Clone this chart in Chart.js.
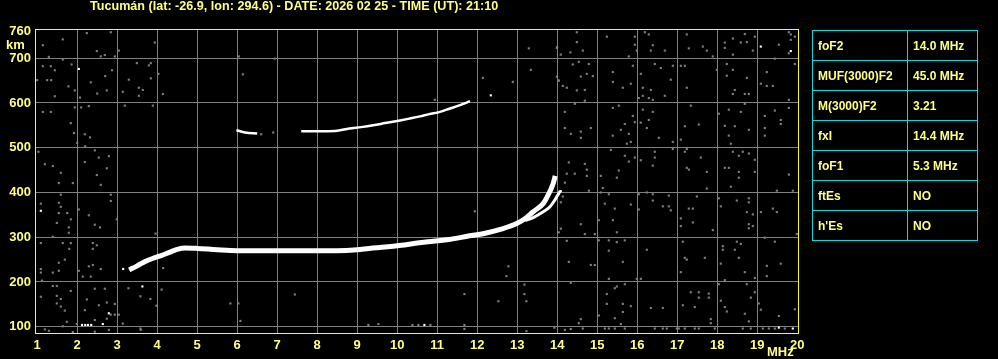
<!DOCTYPE html>
<html>
<head>
<meta charset="utf-8">
<script src="https://cdn.jsdelivr.net/npm/chart.js@4/dist/chart.umd.min.js"></script>
<style>
  body { margin: 0; background: #000; }
  #wrap { position: relative; width: 998px; height: 359px; }
  #params {
    position: absolute; left: 812px; top: 30px;
    border-collapse: collapse;
    font: bold 12px "Liberation Sans", Arial, sans-serif;
    color: #ffff80;
  }
  #params td {
    border: 1px solid #00e0e0;
    height: 29px; padding: 0 0 0 5px;
  }
  #params td.n { width: 89px; }
  #params td.v { width: 64px; }
</style>
</head>
<body>
<div id="wrap">
  <canvas id="my-chart" width="998" height="359"></canvas>
  <table id="params"></table>
</div>
<script>
const title = "Tucumán (lat: -26.9, lon: 294.6) - DATE: 2026 02 25 - TIME (UT): 21:10";

const xTicks = [1, 2, 3, 4, 5, 6, 7, 8, 9, 10, 11, 12, 13, 14, 15, 16, 17, 18, 19, 20];
const yTicks = [100, 200, 300, 400, 500, 600, 700, 760];

// F2 trace (o-mode), MHz / km
const oFreq = [3.3, 3.5, 3.7, 3.9, 4.1, 4.3, 4.5, 4.7, 5.0, 5.5, 6.0, 6.5, 7.0, 7.5, 8.0, 8.5, 9.0, 9.3, 9.7, 10.1, 10.5, 10.9, 11.3, 11.75, 12.2, 12.6, 13.0, 13.2, 13.4, 13.65, 13.75, 13.9, 13.95];
const oHeight = [227, 236, 246, 253, 259, 266, 273, 276, 275, 272, 270, 270, 270, 270, 270, 270, 272, 275, 278, 282, 287, 291, 295, 302, 309, 318, 331, 342, 357, 375, 390, 420, 437];

// x-mode branch
const xFreq = [13.2, 13.4, 13.65, 13.82, 13.94, 14.08];
const xHeight = [337, 344, 357, 368, 383, 404];

// second hop trace (null = gap)
const hopFreq = [5.98, 6.2, 6.5, 6.9, 7.6, 7.9, 8.2, 8.5, 8.8, 9.1, 9.4, 9.7, 10.07, 10.3, 10.57, 10.8, 11.07, 11.3, 11.57, 11.82];
const hopHeight = [539, 534, 532, null, 537, 537, 537, 538, 543, 546, 550, 555, 561, 565, 570, 575, 580, 587, 595, 604];

// scattered echoes [MHz, km]
const noiseGray = [
  [1.14,729],[1.64,742],[2.24,756],[2.84,758],[2.49,716],[2.59,704],[2.69,707],[1.29,703],[1.64,697],[1.14,682],
  [1.34,682],[1.44,673],[1.86,686],[1.0,651],[1.25,651],[1.35,651],[1.78,637],[1.94,628],[2.34,646],[2.5,621],
  [2.74,628],[2.7,660],[2.87,673],[1.44,615],[2.07,612],[1.14,580],[1.34,580],[1.94,590],[2.1,590],[2.29,593],
  [1.84,555],[1.92,533],[2.19,530],[2.32,523],[2.0,511],[2.2,503],[1.03,491],[2.44,494],[2.54,478],[2.79,481],
  [1.19,463],[1.39,459],[2.19,468],[2.74,454],[1.59,444],[2.49,439],[1.54,421],[1.89,421],[2.59,417],[1.59,395],
  [2.84,395],[2.84,381],[1.09,375],[1.54,377],[1.59,368],[2.04,362],[1.54,354],[1.75,354],[2.29,349],[2.99,340],
  [1.49,332],[1.84,340],[1.79,322],[1.79,310],[2.44,328],[2.57,322],[1.39,301],[1.09,287],[1.64,287],[1.84,287],
  [2.39,287],[2.49,282],[1.8,274],[2.39,274],[1.69,250],[1.54,243],[2.29,235],[2.39,238],[2.59,229],[1.09,229],
  [1.09,221],[1.39,221],[1.54,225],[2.04,225],[2.14,212],[2.34,212],[1.12,203],[1.39,191],[1.49,191],[1.84,180],
  [1.09,167],[1.49,169],[1.59,162],[1.49,152],[1.59,145],[1.69,136],[2.44,185],[2.69,185],[2.24,161],[2.54,148],
  [2.74,154],[2.94,151],[2.19,137],[2.44,115],[2.74,118],[2.84,127],[2.94,127],[3.04,127],[1.64,101],[1.19,94],
  [1.29,91],[1.89,88],[1.99,106],[1.74,111],[2.44,89],[2.79,93],[3.59,93],[3.14,107],
  [3.94,735],[3.04,717],[2.94,704],[3.49,689],[3.79,684],[3.84,689],[4.03,665],[3.84,655],[3.29,652],[3.54,634],
  [3.64,629],[3.14,625],[3.54,616],[4.14,620],[3.19,594],[3.89,594],[6.04,704],[6.14,664],[6.94,699],[10.94,607],
  [12.14,656],[12.89,647],[13.29,722],[13.34,674],[13.99,723],[13.99,659],[14.04,650],[3.96,308],[4.15,231],[4.11,183],
  [5.83,152],[6.03,152],[6.08,113],[7.44,172],[9.28,104],[9.53,106],[10.38,104],[10.53,104],[10.83,104],[11.68,173],
  [11.68,104],[11.68,95],[12.78,235],[12.73,213],[12.53,157],[13.18,194],[13.18,173],[13.23,157],[13.23,90],[13.93,98],
  [11.94,358],[3.28,186],[3.58,168],[3.83,162],[3.98,147],[3.58,96],[6.9,534],[6.6,530],
  [14.49,758],[14.49,736],[14.33,713],[14.09,708],[14.64,717],[14.0,725],[15.24,748],[15.94,748],[15.94,730],[16.19,758],
  [16.29,753],[16.39,729],[16.34,717],[16.69,717],[15.99,717],[15.79,704],[17.24,753],[17.29,722],[17.64,726],[17.74,717],
  [17.89,704],[18.19,735],[18.19,723],[18.39,744],[18.59,735],[18.69,754],[18.74,736],[18.94,748],[18.89,717],[18.39,708],
  [19.54,730],[19.79,758],[19.84,753],[19.84,741],[19.79,711],[19.94,748],[14.39,686],[14.54,692],[14.79,687],[14.59,659],
  [14.74,665],[14.89,660],[14.03,650],[14.14,638],[14.24,634],[14.49,628],[14.69,629],[14.69,605],[15.39,669],[15.39,647],
  [15.64,634],[15.84,643],[15.89,683],[16.09,665],[16.14,634],[16.14,616],[16.04,611],[16.29,611],[16.39,607],[16.34,629],
  [16.69,616],[16.44,687],[16.59,678],[16.84,652],[16.89,683],[17.09,683],[17.19,683],[17.24,634],[17.99,674],[18.24,687],
  [18.39,674],[18.24,661],[18.74,656],[18.44,629],[18.39,620],[18.69,620],[18.79,620],[19.09,643],[19.24,638],[19.39,638],
  [19.24,669],[19.44,699],[19.79,607],[19.94,687],[14.19,580],[14.19,544],[14.34,531],[14.59,536],[14.59,522],[14.84,544],
  [14.44,598],[15.39,589],[15.54,594],[15.89,571],[15.94,557],[15.69,553],[15.59,540],[15.79,531],[15.39,527],[15.74,509],
  [15.84,513],[16.14,585],[16.39,580],[16.29,562],[16.09,556],[16.24,544],[16.54,522],[16.89,513],[17.34,594],[17.19,548],
  [17.54,552],[17.09,518],[18.04,576],[18.29,585],[18.59,580],[18.19,549],[18.44,548],[18.79,540],[18.29,527],[18.34,509],
  [18.69,598],[19.44,583],[19.79,589],[19.19,571],[19.59,562],[19.59,553],[19.19,544],[19.19,527],[14.29,467],[14.69,464],
  [14.74,451],[14.24,442],[14.44,442],[14.74,437],[15.09,437],[15.34,495],[15.69,482],[15.79,469],[15.94,478],[15.54,449],
  [15.49,433],[16.09,472],[16.44,491],[16.44,478],[16.39,460],[16.89,497],[17.19,491],[17.24,497],[17.59,478],[17.24,455],
  [17.29,451],[17.74,446],[18.39,491],[18.54,482],[18.64,491],[18.79,487],[18.94,473],[18.19,455],[18.29,455],[18.54,446],
  [18.94,446],[18.54,433],[19.79,440],
  [14.19,422],[14.04,396],[14.14,391],[14.09,378],[14.79,404],[15.14,410],[15.09,400],[15.29,396],[15.19,375],[15.44,364],
  [15.84,373],[16.04,396],[16.04,362],[16.24,400],[16.39,396],[16.39,382],[16.79,393],[16.64,369],[16.79,369],[16.84,360],
  [17.49,391],[17.74,409],[17.29,364],[17.39,364],[17.09,342],[17.39,333],[17.09,325],[17.89,316],[18.04,387],[18.09,369],
  [18.34,413],[18.49,382],[18.79,387],[18.79,378],[18.74,356],[18.89,351],[18.79,329],[18.89,325],[18.79,320],[19.09,356],
  [19.39,364],[19.49,356],[19.49,404],[19.89,404],[19.99,307],[14.09,319],[14.59,329],[14.69,307],[14.94,307],[15.04,338],
  [15.39,338],[15.49,311],[14.04,311],[14.24,292],[14.29,245],[14.84,238],[14.94,238],[15.04,293],[15.29,293],[15.49,289],
  [15.69,293],[15.29,270],[15.64,245],[15.29,207],[15.99,207],[16.09,207],[16.24,272],[17.14,290],[17.19,254],[17.24,250],
  [17.69,254],[17.09,222],[18.14,280],[18.14,272],[18.49,290],[18.59,285],[18.44,272],[18.54,254],[18.09,241],[18.69,222],
  [18.19,204],[18.94,209],[19.19,299],[19.44,290],[19.24,236],[19.59,241],[19.24,213],[14.34,198],[15.69,195],[15.49,190],
  [15.44,186],[15.24,173],[15.24,151],[15.64,151],[15.84,146],[15.64,133],[15.44,119],[15.59,106],[15.04,125],[16.34,142],
  [16.64,142],[17.34,177],[17.14,148],[17.44,144],[17.54,165],[17.79,174],[17.79,165],[17.54,177],[18.04,195],[18.74,195],
  [18.94,177],[18.09,158],[18.19,144],[18.24,134],[18.69,129],[19.04,152],[19.09,138],[18.84,165],[17.84,117],[17.84,108],
  [18.79,112],[19.54,124],[19.94,139],[14.59,117],[14.54,108],[14.34,95],[14.19,93],
  [14.64,96],[15.19,96],[15.29,96],[15.44,96],[15.69,96],[16.44,96],[16.64,96],[16.74,96],[16.99,96],[17.04,96],
  [17.19,96],[17.44,96],[17.54,96],[17.94,96],[18.64,96],[18.84,96],[19.14,96],[19.29,96],[19.44,96],[19.69,96]
];
const noiseWhite = [
  [2.04,676],[1.09,359],[2.79,130],[2.12,104],[2.2,104],[2.27,104],[2.35,104],[2.64,106],[3.63,190],[3.15,229],
  [10.68,104],[12.34,617],[19.09,726],[19.84,716],[14.09,403],[19.54,98],[19.89,96]
];

const paramNames = ["foF2", "MUF(3000)F2", "M(3000)F2", "fxI", "foF1", "ftEs", "h'Es"];
const paramValues = ["14.0 MHz", "45.0 MHz", "3.21", "14.4 MHz", "5.3 MHz", "NO", "NO"];

const table = document.getElementById("params");
paramNames.forEach((name, i) => {
  const row = table.insertRow();
  const a = row.insertCell(); a.className = "n"; a.textContent = name;
  const b = row.insertCell(); b.className = "v"; b.textContent = paramValues[i];
});

const yellow = "#ffff80";
const labelFont = { family: "Liberation Sans", weight: "bold", size: 13 };

const frame = {
  id: "frame",
  beforeDraw(chart) {
    const ctx = chart.ctx;
    ctx.save();
    ctx.fillStyle = "#000";
    ctx.fillRect(0, 0, chart.width, chart.height);
    ctx.restore();
  },
  afterDraw(chart) {
    const { ctx, chartArea: a } = chart;
    ctx.save();
    ctx.strokeStyle = "#ffff00";
    ctx.lineWidth = 1;
    ctx.strokeRect(a.left - 0.5, a.top - 0.5, a.right - a.left + 1, a.bottom - a.top + 1);
    ctx.fillStyle = yellow;
    ctx.font = "bold 12.6px 'Liberation Sans'";
    ctx.textBaseline = "middle";
    ctx.textAlign = "left";
    ctx.fillText(title, 90, 7);
    ctx.font = "bold 13px 'Liberation Sans'";
    ctx.fillText("km", 6, 45);
    ctx.fillText("MHz", 767, 352);
    ctx.restore();
  },
};

const pts = (f, h) => f.map((v, i) => ({ x: v, y: h[i] }));

const ctx = document.getElementById("my-chart").getContext("2d");
const chart = new Chart(ctx, {
  type: "scatter",
  data: {
    datasets: [
      {
        data: pts(oFreq, oHeight),
        showLine: true,
        borderColor: "#ffffff",
        borderWidth: 5,
        pointRadius: 0,
        cubicInterpolationMode: "monotone",
      },
      {
        data: pts(xFreq, xHeight),
        showLine: true,
        borderColor: "#ffffff",
        borderWidth: 3,
        pointRadius: 0,
        cubicInterpolationMode: "monotone",
      },
      {
        data: pts(hopFreq, hopHeight),
        showLine: true,
        spanGaps: false,
        borderColor: "#ffffff",
        borderWidth: 2.5,
        pointRadius: 0,
        cubicInterpolationMode: "monotone",
      },
      {
        data: noiseWhite.map((p) => ({ x: p[0], y: p[1] })),
        pointStyle: "rect",
        pointRadius: 1.5,
        borderWidth: 0,
        backgroundColor: "#ffffff",
      },
      {
        data: noiseGray.map((p) => ({ x: p[0], y: p[1] })),
        pointStyle: "rect",
        pointRadius: 1.5,
        borderWidth: 0,
        backgroundColor: "#808080",
      },
    ],
  },
  options: {
    responsive: false,
    animation: false,
    devicePixelRatio: 1,
    layout: { padding: { top: 30, right: 200, left: 0, bottom: 0 } },
    plugins: { legend: { display: false }, tooltip: { enabled: false } },
    scales: {
      x: {
        type: "linear",
        min: 0.97,
        max: 20.02,
        afterBuildTicks: (s) => { s.ticks = xTicks.map((v) => ({ value: v })); },
        afterFit: (s) => { s.height = 26; },
        border: { display: false },
        grid: {
          drawTicks: false,
          color: (c) => (c.tick && (c.tick.value === 1 || c.tick.value === 20) ? "transparent" : "#808080"),
        },
        ticks: { color: yellow, font: labelFont, padding: 5, maxRotation: 0, autoSkip: false },
      },
      y: {
        type: "linear",
        min: 86,
        max: 763,
        afterBuildTicks: (s) => { s.ticks = yTicks.map((v) => ({ value: v })); },
        afterFit: (s) => { s.width = 36; },
        border: { display: false },
        grid: {
          drawTicks: false,
          color: (c) => (c.tick && c.tick.value === 760 ? "transparent" : "#808080"),
        },
        ticks: { color: yellow, font: labelFont, padding: 5, autoSkip: false },
      },
    },
  },
  plugins: [frame],
});
</script>
</body>
</html>
